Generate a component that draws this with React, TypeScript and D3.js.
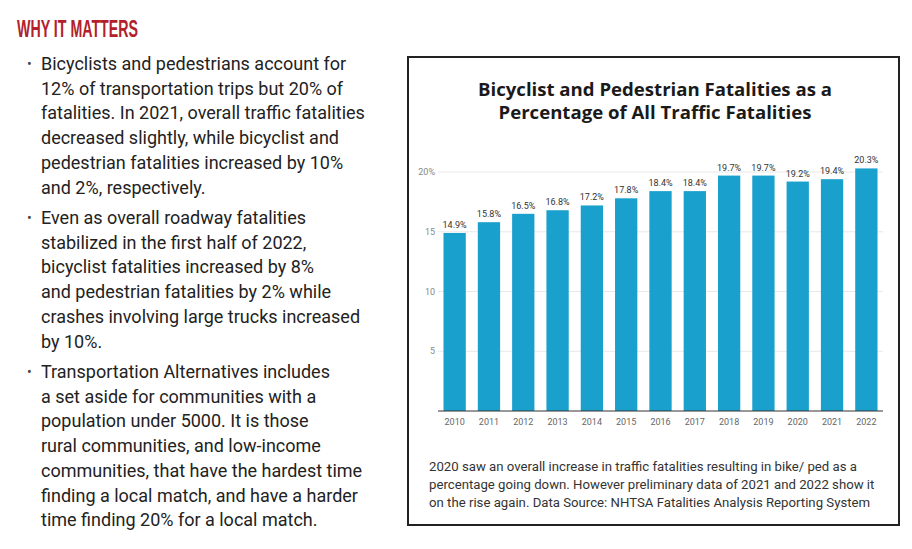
import React from "react";
import * as d3 from "d3";

const years = ["2010","2011","2012","2013","2014","2015","2016","2017","2018","2019","2020","2021","2022"];
const values = [14.9, 15.8, 16.5, 16.8, 17.2, 17.8, 18.4, 18.4, 19.7, 19.7, 19.2, 19.4, 20.3];
const yTicks = [5, 10, 15, 20];
const titleLines = ["Bicyclist and Pedestrian Fatalities as a", "Percentage of All Traffic Fatalities"];
const captionLines = [
  "2020 saw an overall increase in traffic fatalities resulting in bike/ ped as a",
  "percentage going down. However preliminary data of 2021 and 2022 show it",
  "on the rise again. Data Source: NHTSA Fatalities Analysis Reporting System",
];
const heading = "WHY IT MATTERS";
const bullets = [
  [
    "Bicyclists and pedestrians account for",
    "12% of transportation trips but 20% of",
    "fatalities. In 2021, overall traffic fatalities",
    "decreased slightly, while bicyclist and",
    "pedestrian fatalities increased by 10%",
    "and 2%, respectively.",
  ],
  [
    "Even as overall roadway fatalities",
    "stabilized in the first half of 2022,",
    "bicyclist fatalities increased by 8%",
    "and pedestrian fatalities by 2% while",
    "crashes involving large trucks increased",
    "by 10%.",
  ],
  [
    "Transportation Alternatives includes",
    "a set aside for communities with a",
    "population under 5000. It is those",
    "rural communities, and low-income",
    "communities, that have the hardest time",
    "finding a local match, and have a harder",
    "time finding 20% for a local match.",
  ],
];

export default function App() {
  const W = 912, H = 549;
  const x = d3.scaleBand<string>().domain(years).range([438, 883]).paddingInner(0.35).paddingOuter(0.16);
  const y = d3.scaleLinear().domain([0, 20]).range([411, 172]);
  const bulletStarts = [70, 224, 378];
  const lh = 24.7;
  const textFont = "Roboto, 'Open Sans', sans-serif";
  return (
    <svg width={W} height={H} style={{ position: "absolute", left: 0, top: 0, background: "#fff" }}>
      <rect x={0} y={0} width={W} height={H} fill="#fff" />
      <text x={17} y={37} fill="#b3202a" fontFamily="'Liberation Sans Narrow', sans-serif" fontWeight="bold" fontSize={24} textLength={121} lengthAdjust="spacingAndGlyphs">{heading}</text>
      {bullets.map((lines, bi) => (
        <g key={bi}>
          <text x={27} y={bulletStarts[bi] - 1} fill="#444" fontFamily={textFont} fontSize={14}>•</text>
          {lines.map((l, li) => (
            <text key={li} x={41} y={bulletStarts[bi] + li * lh} fill="#222" fontFamily={textFont} fontSize={18}>{l}</text>
          ))}
        </g>
      ))}
      <rect x={408} y={57} width={491} height={468} fill="none" stroke="#222" strokeWidth={2} />
      {titleLines.map((t, i) => (
        <text key={i} x={655} y={96 + i * 23} textAnchor="middle" fill="#1a1a1a" fontFamily="'Open Sans', Roboto, sans-serif" fontWeight="bold" fontSize={18.6}>{t}</text>
      ))}
      {yTicks.map((t) => (
        <g key={t}>
          <line x1={438} x2={883} y1={y(t)} y2={y(t)} stroke="#e8e8e8" strokeWidth={1} />
          <text x={435} y={y(t) + 3} textAnchor="end" fill="#888" fontFamily={textFont} fontSize={9}>{t === 20 ? "20%" : String(t)}</text>
        </g>
      ))}
      {years.map((yr, i) => (
        <g key={yr}>
          <rect x={x(yr)} y={y(values[i])} width={x.bandwidth()} height={y(0) - y(values[i])} fill="#1aa0cc" />
          <text x={(x(yr) as number) + x.bandwidth() / 2} y={y(values[i]) - 5} textAnchor="middle" fill="#333" fontFamily={textFont} fontSize={9}>{values[i].toFixed(1)}%</text>
          <text x={(x(yr) as number) + x.bandwidth() / 2} y={425} textAnchor="middle" fill="#666" fontFamily={textFont} fontSize={9}>{yr}</text>
        </g>
      ))}
      <line x1={438} x2={883} y1={y(0)} y2={y(0)} stroke="#333" strokeWidth={1} />
      {captionLines.map((c, i) => (
        <text key={i} x={429} y={471 + i * 17.8} fill="#333" fontFamily={textFont} fontSize={13.2}>{c}</text>
      ))}
    </svg>
  );
}
